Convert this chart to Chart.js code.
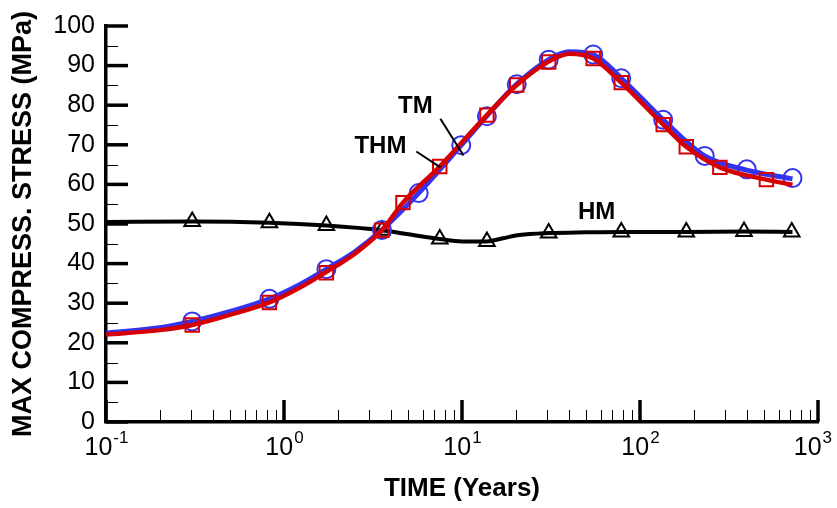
<!DOCTYPE html>
<html>
<head>
<meta charset="utf-8">
<script src="https://cdn.jsdelivr.net/npm/chart.js@4/dist/chart.umd.min.js"></script>
<style>
  html, body { margin: 0; padding: 0; background: #fff; }
  #c { display: block; }
</style>
</head>
<body>
<canvas id="c" width="837" height="508"></canvas>
<script>
// ---------- data ----------
const tmCurveT  = [0.1, 0.2, 0.305, 0.5, 0.828, 1.2, 1.73, 2.5, 3.55, 5.71, 9.9, 13.8, 20.3, 30.7, 40, 54.6, 78.5, 135, 231, 398, 719];
const tmCurveV  = [22.5, 23.8, 25.4, 27.9, 31.1, 34.5, 38.6, 43.0, 48.5, 57.8, 69.9, 77.3, 85.3, 91.5, 93.5, 92.8, 86.8, 76.3, 67.2, 63.6, 61.4];
const tmMarkT   = [0.305, 0.828, 1.73, 3.55, 5.71, 9.9, 13.8, 20.3, 30.7, 54.6, 78.5, 135, 231, 398, 719];
const tmMarkV   = [25.4, 31.1, 38.6, 48.5, 57.8, 69.9, 77.2, 85.3, 91.5, 92.8, 86.8, 76.3, 67.2, 63.8, 61.6];

const thmCurveT = [0.1, 0.2, 0.305, 0.5, 0.828, 1.2, 1.73, 2.5, 3.55, 4.66, 7.5, 13.8, 20.3, 30.7, 40, 54.6, 78.5, 135, 182, 281, 513, 719];
const thmCurveV = [22.1, 23.2, 24.5, 27.1, 30.2, 33.7, 37.9, 42.5, 48.4, 55.4, 64.5, 77.5, 85.1, 91.0, 93.0, 91.8, 85.7, 75.1, 69.5, 64.3, 61.2, 59.9];
const thmMarkT  = [0.305, 0.828, 1.73, 3.55, 4.66, 7.5, 13.8, 20.3, 30.7, 54.6, 78.5, 135, 182, 281, 513];
const thmMarkV  = [24.5, 30.2, 37.7, 48.4, 55.4, 64.5, 77.5, 85.1, 90.9, 91.8, 85.7, 75.1, 69.5, 64.3, 61.2];

const hmCurveT  = [0.1, 0.305, 0.828, 1.73, 3.55, 5, 7.5, 10, 13.8, 17, 21, 30.7, 50, 78.5, 182, 384, 719];
const hmCurveV  = [50.5, 50.6, 50.3, 49.6, 48.4, 47.4, 46.2, 45.6, 45.6, 46.4, 47.2, 47.7, 47.9, 48.0, 48.0, 48.1, 48.0];
const hmMarkT   = [0.305, 0.828, 1.73, 3.55, 7.5, 13.8, 30.7, 78.5, 182, 384, 712];
const hmMarkV   = [50.6, 50.3, 49.6, 48.4, 46.2, 45.6, 47.7, 48.0, 48.0, 48.1, 48.0];

// tick labels
const xDecades   = [0.1, 1, 10, 100, 1000];
const xExponents = ['-1', '0', '1', '2', '3'];
const yTickStep  = 10;

// curve labels (text, anchor time, anchor value) and leader lines (from t,v to t,v)
const labelText  = ['TM', 'THM', 'HM'];
const labelT     = [5.47, 3.48, 57.0];
const labelV     = [79.6, 69.6, 52.9];
const leaderFromT = [7.56, 5.54];
const leaderFromV = [76.6, 68.3];
const leaderToT   = [10.2, 7.56];
const leaderToV   = [67.3, 64.3];

// ---------- helpers ----------
const FONT = "'Liberation Sans', Arial, Helvetica, sans-serif";
const pts = (t, v) => t.map((x, i) => ({ x, y: v[i] }));
const BLUE = '#3434f0';
const RED = '#d60000';

const decor = {
  id: 'decor',
  afterDraw(chart) {
    const { ctx, scales: { x, y }, chartArea: a } = chart;
    ctx.save();
    ctx.strokeStyle = '#000';
    ctx.lineCap = 'butt';
    // y ticks (inward)
    const nHalf = Math.round((y.max - y.min) / (yTickStep / 2));
    for (let i = 0; i <= nHalf; i++) {
      const v = y.min + i * yTickStep / 2;
      const major = i % 2 === 0;
      const py = y.getPixelForValue(v);
      ctx.lineWidth = major ? 3.5 : 1;
      ctx.beginPath();
      ctx.moveTo(a.left, major ? py : Math.round(py) + 0.5);
      ctx.lineTo(a.left + (major ? 22 : 12), major ? py : Math.round(py) + 0.5);
      ctx.stroke();
    }
    // x ticks (inward)
    xDecades.forEach((d, i) => {
      const px = x.getPixelForValue(d);
      ctx.lineWidth = 3.5;
      ctx.beginPath();
      ctx.moveTo(px, a.bottom);
      ctx.lineTo(px, a.bottom - 22);
      ctx.stroke();
      if (i < xDecades.length - 1) {
        for (let k = 2; k <= 9; k++) {
          const pm = Math.round(x.getPixelForValue(d * k)) + 0.5;
          ctx.lineWidth = 1;
          ctx.beginPath();
          ctx.moveTo(pm, a.bottom);
          ctx.lineTo(pm, a.bottom - 12);
          ctx.stroke();
        }
      }
    });
    // x tick labels 10^n
    ctx.fillStyle = '#000';
    ctx.textBaseline = 'alphabetic';
    ctx.textAlign = 'left';
    xDecades.forEach((d, i) => {
      const px = x.getPixelForValue(d);
      ctx.font = `25px ${FONT}`;
      const wb = ctx.measureText('10').width;
      ctx.font = `17px ${FONT}`;
      const we = ctx.measureText(xExponents[i]).width;
      let left = px - (wb + we) / 2;
      if (left + wb + we > chart.width - 6) left = chart.width - 6 - wb - we;
      ctx.font = `25px ${FONT}`;
      ctx.fillText('10', left, 455);
      ctx.font = `17px ${FONT}`;
      ctx.fillText(xExponents[i], left + wb + 1, 443);
    });
    // curve labels
    ctx.font = `bold 24px ${FONT}`;
    ctx.textAlign = 'center';
    ctx.textBaseline = 'middle';
    labelText.forEach((s, i) => {
      ctx.fillText(s, x.getPixelForValue(labelT[i]), y.getPixelForValue(labelV[i]));
    });
    ctx.lineWidth = 2;
    leaderFromT.forEach((t, i) => {
      ctx.beginPath();
      ctx.moveTo(x.getPixelForValue(t), y.getPixelForValue(leaderFromV[i]));
      ctx.lineTo(x.getPixelForValue(leaderToT[i]), y.getPixelForValue(leaderToV[i]));
      ctx.stroke();
    });
    ctx.restore();
  }
};

const lineDs = (label, t, v, color, w) => ({
  label, data: pts(t, v), borderColor: color, borderWidth: w, pointRadius: 0,
  fill: false, showLine: true, cubicInterpolationMode: 'monotone'
});
const markDs = (label, t, v, color, style, r) => ({
  label, data: pts(t, v), borderColor: color, backgroundColor: 'rgba(0,0,0,0)',
  pointStyle: style, pointRadius: r, pointBorderWidth: 2, showLine: false
});

new Chart(document.getElementById('c'), {
  type: 'scatter',
  data: {
    datasets: [
      markDs('THM markers', thmMarkT, thmMarkV, RED, 'rect', 9.5),
      lineDs('THM', thmCurveT, thmCurveV, RED, 4.5),
      markDs('TM markers', tmMarkT, tmMarkV, BLUE, 'circle', 9),
      lineDs('TM', tmCurveT, tmCurveV, BLUE, 5),
      markDs('HM markers', hmMarkT, hmMarkV, '#000', 'triangle', 9),
      lineDs('HM', hmCurveT, hmCurveV, '#000', 4)
    ]
  },
  options: {
    responsive: false,
    animation: false,
    devicePixelRatio: 1,
    layout: { padding: { top: 21, right: 19, bottom: 0, left: 0 } },
    plugins: { legend: { display: false }, tooltip: { enabled: false } },
    scales: {
      x: {
        type: 'logarithmic', min: 0.1, max: 1000, position: 'bottom',
        grid: { display: false, drawTicks: false },
        border: { display: true, color: '#000', width: 3.5 },
        ticks: { display: false },
        title: { display: true, text: 'TIME (Years)', color: '#000',
                 font: { family: FONT, size: 26, weight: 'bold' }, padding: { top: 0, bottom: 3.4 } },
        afterFit(s) { s.height = 86; }
      },
      y: {
        type: 'linear', min: 0, max: 100, position: 'left',
        grid: { display: false, drawTicks: false },
        border: { display: true, color: '#000', width: 3.5 },
        ticks: { stepSize: yTickStep, color: '#000', padding: 11, font: { family: FONT, size: 25 } },
        title: { display: true, text: 'MAX COMPRESS. STRESS (MPa)', color: '#000',
                 font: { family: FONT, size: 27, weight: 'bold' }, padding: { top: 7.8, bottom: 0 } },
        afterFit(s) { s.width = 106; }
      }
    }
  },
  plugins: [decor]
});
</script>
</body>
</html>
